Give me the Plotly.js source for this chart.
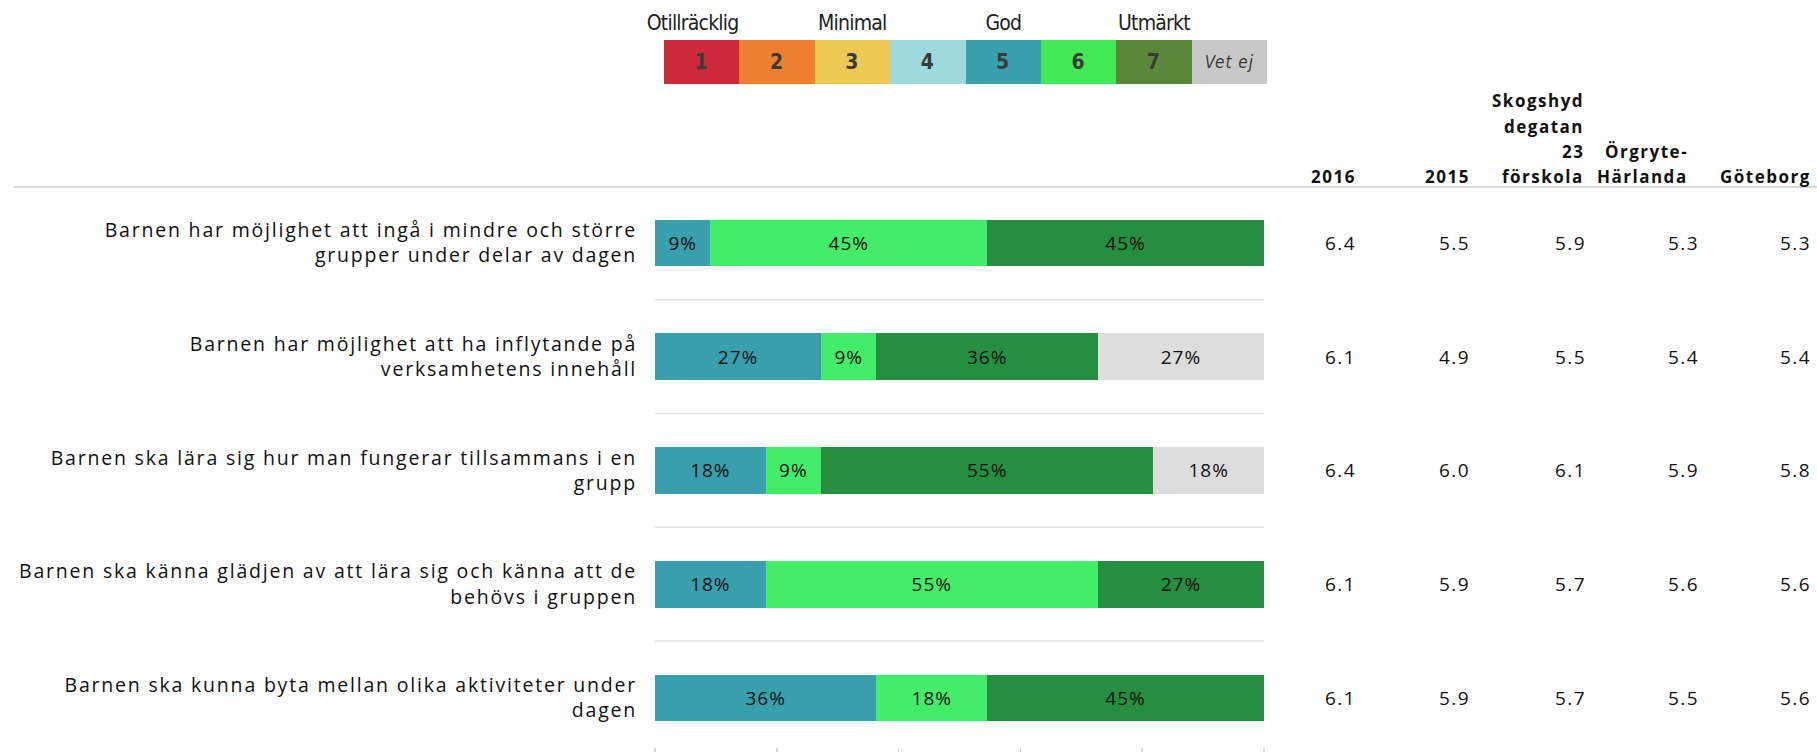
<!DOCTYPE html>
<html>
<head>
<meta charset="utf-8">
<script src="https://cdn.plot.ly/plotly-3.0.1.min.js"></script>
<style>
  html, body { margin: 0; padding: 0; background: #fff; }
  #chart { width: 1817px; height: 752px; }
  .ytick text { letter-spacing: 1.8px; }
  .annotation-text { letter-spacing: 1.5px; }
  .bartext { letter-spacing: 1px; }
  .annotation[data-index="0"] .annotation-text,
  .annotation[data-index="1"] .annotation-text,
  .annotation[data-index="2"] .annotation-text,
  .annotation[data-index="3"] .annotation-text { letter-spacing: -0.8px; }
</style>
</head>
<body>
<div id="chart"></div>
<script>
// ---------- data ----------
const categories = [
  "Barnen har möjlighet att ingå i mindre och större<br>grupper under delar av dagen",
  "Barnen har möjlighet att ha inflytande på<br>verksamhetens innehåll",
  "Barnen ska lära sig hur man fungerar tillsammans i en<br>grupp",
  "Barnen ska känna glädjen av att lära sig och känna att de<br>behövs i gruppen",
  "Barnen ska kunna byta mellan olika aktiviteter under<br>dagen"
];
const share5 = [9.09, 27.27, 18.18, 18.18, 36.36];
const share6 = [45.45, 9.09, 9.09, 54.55, 18.18];
const share7 = [45.45, 36.36, 54.55, 27.27, 45.45];
const shareVetEj = [0, 27.27, 18.18, 0, 0];

const colHeaders = [["2016"], ["2015"], ["Skogshyd", "degatan", "23", "förskola"], ["Örgryte-", "Härlanda"], ["Göteborg"]];
const val2016 = [6.4, 6.1, 6.4, 6.1, 6.1];
const val2015 = [5.5, 4.9, 6.0, 5.9, 5.9];
const valSkogshyd = [5.9, 5.5, 6.1, 5.7, 5.7];
const valOrgryte = [5.3, 5.4, 5.9, 5.6, 5.5];
const valGoteborg = [5.3, 5.4, 5.8, 5.6, 5.6];

const scaleCats = ["1", "2", "3", "4", "5", "6", "7", "Vet ej"];
const scaleText = ["<b>1</b>", "<b>2</b>", "<b>3</b>", "<b>4</b>", "<b>5</b>", "<b>6</b>", "<b>7</b>", "<i>Vet ej</i>"];
const scaleWords = [[0, "Otillräcklig"], [2, "Minimal"], [4, "God"], [6, "Utmärkt"]];

// ---------- styles ----------
const W = 1817, H = 752;
const scaleColors = ["#cd2a39", "#ef7f31", "#edc953", "#9fd9e0", "#3a9fad", "#42eb55", "#5a873a", "#c8c8c8"];
const barColors = {s5: "#3a9fad", s6: "#43ec69", s7: "#268e40", vet: "#dddddd"};
const FONT = "Open Sans, Noto Sans, sans-serif";
const NARROW = "DejaVu Sans Condensed, Liberation Sans Narrow, sans-serif";
const px = p => p / W;
const py = p => 1 - p / H;
const rows = categories.map((_, i) => i);

function segTrace(vals, color) {
  return {
    type: "bar", orientation: "h", y: rows, x: vals, width: 0.41,
    marker: {color: color, line: {width: 0}},
    text: vals.map(v => v > 0 ? Math.round(v) + "%" : ""),
    textposition: "inside", insidetextanchor: "middle", constraintext: "none",
    textfont: {family: FONT, size: 19, color: "#111"},
    hoverinfo: "skip", showlegend: false, xaxis: "x", yaxis: "y"
  };
}

const traces = [
  segTrace(share5, barColors.s5),
  segTrace(share6, barColors.s6),
  segTrace(share7, barColors.s7),
  segTrace(shareVetEj, barColors.vet),
  {
    type: "bar", x: scaleCats, y: scaleCats.map(() => 1), width: 1,
    marker: {color: scaleColors, line: {width: 0}},
    text: scaleText, textposition: "inside", insidetextanchor: "middle", constraintext: "none",
    textfont: {family: NARROW, size: scaleCats.map((c, i) => i < 7 ? 21 : 17), color: "#3a3a3a"},
    hoverinfo: "skip", showlegend: false, xaxis: "x2", yaxis: "y2"
  }
];

const annotations = [];
scaleWords.forEach(([idx, word], i) => {
  annotations.push({
    xref: "x2", yref: "paper", x: idx, y: py(23), xanchor: "center", yanchor: "middle",
    xshift: i === 0 ? -9 : 0,
    text: word, showarrow: false, font: {family: NARROW, size: 21, color: "#222"}
  });
});
const valueCols = [val2016, val2015, valSkogshyd, valOrgryte, valGoteborg];
const valueRight = [1358, 1472, 1588, 1701, 1813];
const headerRight = [1358, 1472, 1586, 1690, 1813];
valueCols.forEach((col, c) => {
  col.forEach((v, r) => {
    annotations.push({
      xref: "paper", yref: "y", x: px(valueRight[c]), y: r, xanchor: "right", yanchor: "middle",
      text: v.toFixed(1), showarrow: false, font: {family: FONT, size: 19, color: "#111"}
    });
  });
});
colHeaders.forEach((lines, c) => {
  lines.forEach((t, j) => {
    const yPix = 176 - 25 * (lines.length - 1 - j);
    annotations.push({
      xref: "paper", yref: "paper", x: px(headerRight[c]), y: py(yPix), xanchor: "right", yanchor: "middle",
      text: "<b>" + t + "</b>", showarrow: false, font: {family: FONT, size: 17, color: "#111"}
    });
  });
});

const shapes = [
  {type: "line", xref: "paper", yref: "paper", x0: px(14), x1: 1, y0: py(187), y1: py(187),
   line: {color: "#dadada", width: 2}}
];
[0.5, 1.5, 2.5, 3.5].forEach(yv => {
  shapes.push({type: "line", xref: "x", yref: "y", x0: 0, x1: 100, y0: yv, y1: yv,
    line: {color: "#e2e2e2", width: 1.5}});
});

const layout = {
  width: W, height: H, margin: {l: 0, r: 0, t: 0, b: 0},
  paper_bgcolor: "#fff", plot_bgcolor: "rgba(0,0,0,0)",
  barmode: "stack", bargap: 0, showlegend: false,
  xaxis: {domain: [px(655), px(1264)], range: [0, 100], showgrid: false, zeroline: false, showline: false,
    ticks: "outside", tickvals: [0, 20, 40, 60, 80, 100], ticklen: 5, tickwidth: 1.5, tickcolor: "#d6d6d6",
    showticklabels: false, fixedrange: true},
  yaxis: {domain: [5 / H, 1], range: [4.431, -2.136], showgrid: false, zeroline: false, showline: false,
    tickvals: rows, ticktext: categories, ticks: "outside", ticklen: 13, tickcolor: "rgba(0,0,0,0)",
    tickfont: {family: FONT, size: 19.5, color: "#111"}, fixedrange: true},
  xaxis2: {domain: [px(664), px(1267)], type: "category", range: [-0.5, 7.5], visible: false, fixedrange: true},
  yaxis2: {domain: [py(84), py(40)], range: [0, 1], visible: false, fixedrange: true},
  annotations: annotations,
  shapes: shapes,
  font: {family: FONT}
};

Plotly.newPlot("chart", traces, layout, {displayModeBar: false, staticPlot: true});
</script>
</body>
</html>
